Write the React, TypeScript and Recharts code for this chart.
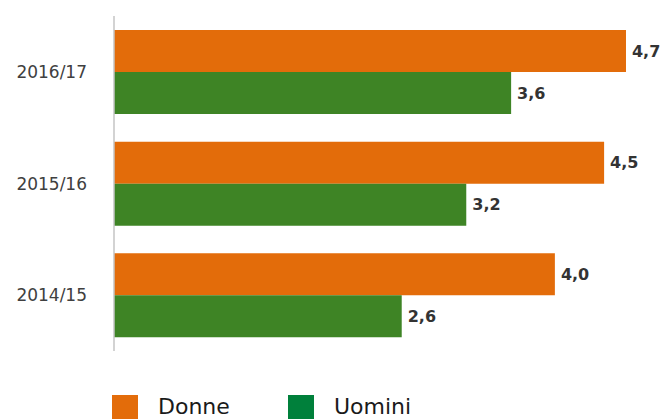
import { BarChart, Bar, XAxis, YAxis, Legend, LabelList } from "recharts";

const years = ["2016/17", "2015/16", "2014/15"];
const donne = [4.68, 4.48, 4.03];
const uomini = [3.63, 3.22, 2.63];

const seriesNames = ["Donne", "Uomini"];
const barColors = ["#e36c0a", "#3e8425"];
const legendColors = ["#e36c0a", "#00803b"];

const data = years.map((y, i) => ({ name: y, Donne: donne[i], Uomini: uomini[i] }));

const FONT = "'DejaVu Sans', sans-serif";

const fmt = (v: unknown) => Number(v).toFixed(1).replace(".", ",");

function LegendContent() {
  return (
    <div style={{ display: "flex", fontFamily: FONT }}>
      {seriesNames.map((n, i) => (
        <div key={n} style={{ display: "flex", alignItems: "flex-start", width: 176 }}>
          <div style={{ width: 26, height: 26, background: legendColors[i], marginRight: 20 }} />
          <span style={{ fontSize: 22, color: "#1a1a1a", lineHeight: "24px", marginTop: 0 }}>{n}</span>
        </div>
      ))}
    </div>
  );
}

export default function App() {
  return (
    <div style={{ position: "absolute", left: 0, top: 0, width: 665, height: 419, background: "#fff", overflow: "hidden" }}>
      <BarChart
        width={665}
        height={419}
        data={data}
        layout="vertical"
        barGap={0}
        margin={{ top: 16, right: 4, bottom: 38, left: 0 }}
      >
        <XAxis type="number" domain={[0, 5]} hide />
        <YAxis
          type="category"
          dataKey="name"
          width={114}
          tickLine={false}
          tickMargin={21}
          axisLine={{ stroke: "#c4c4c4", strokeWidth: 1.5 }}
          tick={{ fontSize: 17, fill: "#404040", fontFamily: FONT }}
        />
        <Legend
          content={<LegendContent />}
          wrapperStyle={{ position: "absolute", left: 112, top: 395, width: 400, height: 30 }}
        />
        {seriesNames.map((n, i) => (
          <Bar key={n} dataKey={n} fill={barColors[i]} barSize={42} isAnimationActive={false}>
            <LabelList
              dataKey={n}
              position="right"
              offset={6}
              formatter={fmt}
              style={{ fontSize: 16, fontWeight: "bold", fill: "#333333", fontFamily: FONT }}
            />
          </Bar>
        ))}
      </BarChart>
    </div>
  );
}
